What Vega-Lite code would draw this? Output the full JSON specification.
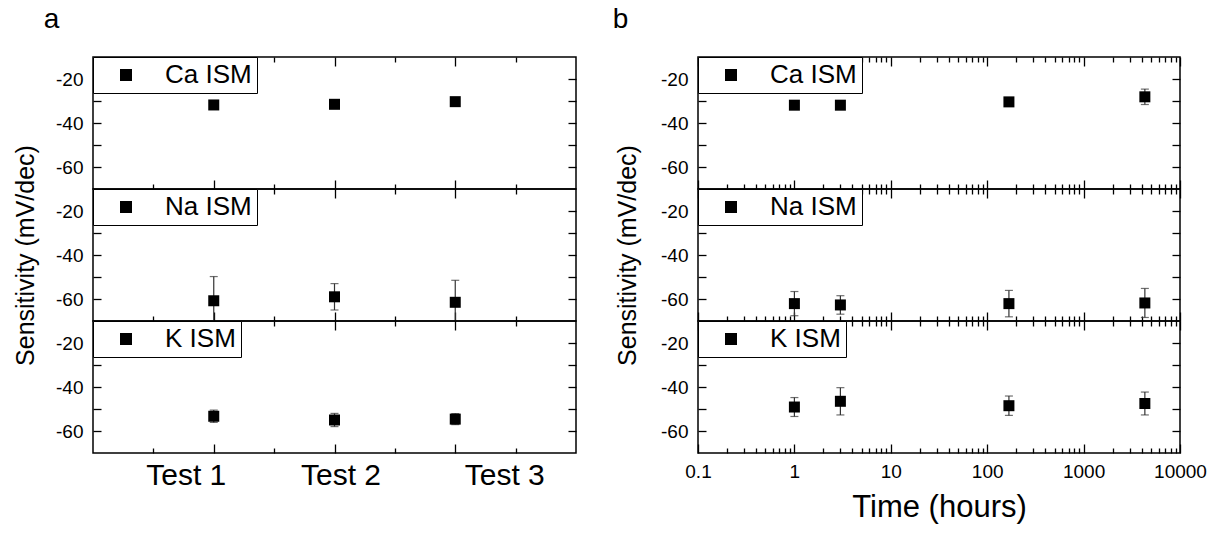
{
  "$schema": "https://vega.github.io/schema/vega-lite/v6.json",
  "padding": {"left": 12, "top": 5, "right": 5, "bottom": 5},
  "background": "white",
  "datasets": {
    "a": [
      {"ion": "Ca", "label": "Ca ISM", "x": 1, "y": -31.8, "lo": -31.8, "hi": -31.8},
      {"ion": "Ca", "label": "Ca ISM", "x": 2, "y": -31.5, "lo": -31.5, "hi": -31.5},
      {"ion": "Ca", "label": "Ca ISM", "x": 3, "y": -30.3, "lo": -30.3, "hi": -30.3},
      {"ion": "Na", "label": "Na ISM", "x": 1, "y": -60.8, "lo": -71.8, "hi": -49.8},
      {"ion": "Na", "label": "Na ISM", "x": 2, "y": -59.0, "lo": -65.0, "hi": -53.0},
      {"ion": "Na", "label": "Na ISM", "x": 3, "y": -61.5, "lo": -71.5, "hi": -51.5},
      {"ion": "K", "label": "K ISM", "x": 1, "y": -53.3, "lo": -56.1, "hi": -50.5},
      {"ion": "K", "label": "K ISM", "x": 2, "y": -55.0, "lo": -58.0, "hi": -52.0},
      {"ion": "K", "label": "K ISM", "x": 3, "y": -54.6, "lo": -57.1, "hi": -52.1}
    ],
    "b": [
      {"ion": "Ca", "label": "Ca ISM", "x": 1, "y": -31.9, "lo": -32.4, "hi": -31.4},
      {"ion": "Ca", "label": "Ca ISM", "x": 3, "y": -31.9, "lo": -32.4, "hi": -31.4},
      {"ion": "Ca", "label": "Ca ISM", "x": 168, "y": -30.4, "lo": -31.4, "hi": -29.4},
      {"ion": "Ca", "label": "Ca ISM", "x": 4320, "y": -28.1, "lo": -31.6, "hi": -24.6},
      {"ion": "Na", "label": "Na ISM", "x": 1, "y": -62.1, "lo": -67.6, "hi": -56.6},
      {"ion": "Na", "label": "Na ISM", "x": 3, "y": -62.7, "lo": -66.9, "hi": -58.5},
      {"ion": "Na", "label": "Na ISM", "x": 168, "y": -62.1, "lo": -68.1, "hi": -56.1},
      {"ion": "Na", "label": "Na ISM", "x": 4320, "y": -61.8, "lo": -68.4, "hi": -55.2},
      {"ion": "K", "label": "K ISM", "x": 1, "y": -49.1, "lo": -53.4, "hi": -44.8},
      {"ion": "K", "label": "K ISM", "x": 3, "y": -46.5, "lo": -52.7, "hi": -40.3},
      {"ion": "K", "label": "K ISM", "x": 168, "y": -48.5, "lo": -52.9, "hi": -44.1},
      {"ion": "K", "label": "K ISM", "x": 4320, "y": -47.5, "lo": -52.7, "hi": -42.3}
    ]
  },
  "hconcat": [
    {
      "title": {"text": "a", "anchor": "start", "fontSize": 28, "fontWeight": "normal", "dx": 31, "offset": 22},
      "spacing": 0,
      "bounds": "flush",
      "resolve": {"scale": {"shape": "independent"}, "legend": {"shape": "independent"}},
      "vconcat": [
        {
          "width": 483, "height": 132,
          "data": {"name": "a"},
          "transform": [{"filter": "datum.ion == 'Ca'"}],
          "resolve": {"axis": {"x": "independent", "y": "independent"}},
          "layer": [
            {"mark": {"type": "rule", "color": "#333333", "strokeWidth": 1.2, "clip": true},
             "encoding": {
               "x": {"field": "x", "type": "quantitative", "scale": {"domain": [0.1, 4]}, "axis": {"orient": "top", "values": [1, 2, 3], "tickSize": -9, "labels": false, "title": null}},
               "y": {"field": "lo", "type": "quantitative", "scale": {"domain": [-70, -10]}, "axis": {"orient": "right", "values": [-60, -50, -40, -30, -20], "tickSize": -8, "labels": false, "title": null}},
               "y2": {"field": "hi"}}},
            {"mark": {"type": "tick", "orient": "horizontal", "size": 8, "thickness": 1.2, "color": "#333333", "clip": true},
             "encoding": {
               "x": {"field": "x", "type": "quantitative", "axis": {"orient": "bottom", "values": [0.5, 1.5, 2.5, 3.5], "tickSize": -5, "labels": false, "title": null}},
               "y": {"field": "lo", "type": "quantitative", "axis": null}}},
            {"mark": {"type": "tick", "orient": "horizontal", "size": 8, "thickness": 1.2, "color": "#333333", "clip": true},
             "encoding": {
               "x": {"field": "x", "type": "quantitative", "axis": {"orient": "top", "values": [0.5, 1.5, 2.5, 3.5], "tickSize": -5, "labels": false, "title": null}},
               "y": {"field": "hi", "type": "quantitative", "axis": null}}},
            {"mark": {"type": "point", "shape": "square", "filled": true, "size": 121, "color": "black", "opacity": 1},
             "encoding": {
               "x": {"field": "x", "type": "quantitative", "axis": {"orient": "bottom", "values": [1, 2, 3], "tickSize": -9, "labels": false, "title": null}},
               "y": {"field": "y", "type": "quantitative", "axis": {"orient": "left", "values": [-60, -50, -40, -30, -20], "tickSize": -8, "labelExpr": "datum.value % 20 == 0 ? '' + datum.value : ''", "labelPadding": 18, "title": null}},
               "shape": {"field": "label", "type": "nominal", "scale": {"range": ["square"]},
                 "legend": {"title": null, "orient": "top-left", "offset": 0, "padding": 5, "strokeColor": "black", "fillColor": "white", "labelFontSize": 26, "labelColor": "black", "symbolOffset": 15, "labelOffset": 26, "symbolSize": 144, "symbolType": "square", "symbolFillColor": "black", "symbolStrokeWidth": 0, "labelLimit": 300}}}}
          ]
        },
        {
          "width": 483, "height": 132,
          "data": {"name": "a"},
          "transform": [{"filter": "datum.ion == 'Na'"}],
          "resolve": {"axis": {"x": "independent", "y": "independent"}},
          "layer": [
            {"mark": {"type": "rule", "color": "#333333", "strokeWidth": 1.2, "clip": true},
             "encoding": {
               "x": {"field": "x", "type": "quantitative", "scale": {"domain": [0.1, 4]}, "axis": {"orient": "top", "values": [1, 2, 3], "tickSize": -9, "labels": false, "title": null}},
               "y": {"field": "lo", "type": "quantitative", "scale": {"domain": [-70, -10]}, "axis": {"orient": "right", "values": [-60, -50, -40, -30, -20], "tickSize": -8, "labels": false, "title": null}},
               "y2": {"field": "hi"}}},
            {"mark": {"type": "tick", "orient": "horizontal", "size": 8, "thickness": 1.2, "color": "#333333", "clip": true},
             "encoding": {
               "x": {"field": "x", "type": "quantitative", "axis": {"orient": "bottom", "values": [0.5, 1.5, 2.5, 3.5], "tickSize": -5, "labels": false, "title": null}},
               "y": {"field": "lo", "type": "quantitative", "axis": null}}},
            {"mark": {"type": "tick", "orient": "horizontal", "size": 8, "thickness": 1.2, "color": "#333333", "clip": true},
             "encoding": {
               "x": {"field": "x", "type": "quantitative", "axis": {"orient": "top", "values": [0.5, 1.5, 2.5, 3.5], "tickSize": -5, "labels": false, "title": null}},
               "y": {"field": "hi", "type": "quantitative", "axis": null}}},
            {"mark": {"type": "point", "shape": "square", "filled": true, "size": 121, "color": "black", "opacity": 1},
             "encoding": {
               "x": {"field": "x", "type": "quantitative", "axis": {"orient": "bottom", "values": [1, 2, 3], "tickSize": -9, "labels": false, "title": null}},
               "y": {"field": "y", "type": "quantitative", "axis": {"orient": "left", "values": [-60, -50, -40, -30, -20], "tickSize": -8, "labelExpr": "datum.value % 20 == 0 ? '' + datum.value : ''", "labelPadding": 18, "title": "Sensitivity (mV/dec)", "titleFontSize": 25, "titlePadding": 17}},
               "shape": {"field": "label", "type": "nominal", "scale": {"range": ["square"]},
                 "legend": {"title": null, "orient": "top-left", "offset": 0, "padding": 5, "strokeColor": "black", "fillColor": "white", "labelFontSize": 26, "labelColor": "black", "symbolOffset": 15, "labelOffset": 26, "symbolSize": 144, "symbolType": "square", "symbolFillColor": "black", "symbolStrokeWidth": 0, "labelLimit": 300}}}}
          ]
        },
        {
          "width": 483, "height": 132,
          "data": {"name": "a"},
          "transform": [{"filter": "datum.ion == 'K'"}],
          "resolve": {"axis": {"x": "independent", "y": "independent"}},
          "layer": [
            {"mark": {"type": "rule", "color": "#333333", "strokeWidth": 1.2, "clip": true},
             "encoding": {
               "x": {"field": "x", "type": "quantitative", "scale": {"domain": [0.1, 4]}, "axis": {"orient": "top", "values": [1, 2, 3], "tickSize": -9, "labels": false, "title": null}},
               "y": {"field": "lo", "type": "quantitative", "scale": {"domain": [-70, -10]}, "axis": {"orient": "right", "values": [-60, -50, -40, -30, -20], "tickSize": -8, "labels": false, "title": null}},
               "y2": {"field": "hi"}}},
            {"mark": {"type": "tick", "orient": "horizontal", "size": 8, "thickness": 1.2, "color": "#333333", "clip": true},
             "encoding": {
               "x": {"field": "x", "type": "quantitative", "axis": {"orient": "bottom", "values": [0.5, 1.5, 2.5, 3.5], "tickSize": -5, "labels": false, "title": null}},
               "y": {"field": "lo", "type": "quantitative", "axis": null}}},
            {"mark": {"type": "tick", "orient": "horizontal", "size": 8, "thickness": 1.2, "color": "#333333", "clip": true},
             "encoding": {
               "x": {"field": "x", "type": "quantitative", "axis": {"orient": "top", "values": [0.5, 1.5, 2.5, 3.5], "tickSize": -5, "labels": false, "title": null}},
               "y": {"field": "hi", "type": "quantitative", "axis": null}}},
            {"mark": {"type": "point", "shape": "square", "filled": true, "size": 121, "color": "black", "opacity": 1},
             "encoding": {
               "x": {"field": "x", "type": "quantitative", "axis": {"orient": "bottom", "values": [1, 2, 3], "tickSize": -9, "labelExpr": "'Test ' + datum.value", "labelFontSize": 30, "labelPadding": 16, "labelBaseline": "top", "labelFlush": false, "labelOverlap": false, "title": null,
                 "labelOffset": {"condition": [{"test": "datum.value == 1", "value": -28}, {"test": "datum.value == 2", "value": 6}], "value": 49}}},
               "y": {"field": "y", "type": "quantitative", "axis": {"orient": "left", "values": [-60, -50, -40, -30, -20], "tickSize": -8, "labelExpr": "datum.value % 20 == 0 ? '' + datum.value : ''", "labelPadding": 18, "title": null}},
               "shape": {"field": "label", "type": "nominal", "scale": {"range": ["square"]},
                 "legend": {"title": null, "orient": "top-left", "offset": 0, "padding": 5, "strokeColor": "black", "fillColor": "white", "labelFontSize": 26, "labelColor": "black", "symbolOffset": 15, "labelOffset": 26, "symbolSize": 144, "symbolType": "square", "symbolFillColor": "black", "symbolStrokeWidth": 0, "labelLimit": 300}}}}
          ]
        }
      ]
    },
    {
      "title": {"text": "b", "anchor": "start", "fontSize": 28, "fontWeight": "normal", "dx": -2, "offset": 22},
      "spacing": 0,
      "bounds": "flush",
      "resolve": {"scale": {"shape": "independent"}, "legend": {"shape": "independent"}},
      "vconcat": [
        {
          "width": 482, "height": 132,
          "data": {"name": "b"},
          "transform": [{"filter": "datum.ion == 'Ca'"}],
          "resolve": {"axis": {"x": "independent", "y": "independent"}},
          "layer": [
            {"mark": {"type": "rule", "color": "#333333", "strokeWidth": 1.2, "clip": true},
             "encoding": {
               "x": {"field": "x", "type": "quantitative", "scale": {"type": "log", "domain": [0.1, 10000]}, "axis": {"orient": "top", "values": [0.1, 1, 10, 100, 1000, 10000], "tickSize": -9, "labels": false, "title": null}},
               "y": {"field": "lo", "type": "quantitative", "scale": {"domain": [-70, -10]}, "axis": {"orient": "right", "values": [-60, -50, -40, -30, -20], "tickSize": -8, "labels": false, "title": null}},
               "y2": {"field": "hi"}}},
            {"mark": {"type": "tick", "orient": "horizontal", "size": 8, "thickness": 1.2, "color": "#333333", "clip": true},
             "encoding": {
               "x": {"field": "x", "type": "quantitative", "axis": {"orient": "bottom", "values": [0.2, 0.3, 0.4, 0.5, 0.6, 0.7, 0.8, 0.9, 2, 3, 4, 5, 6, 7, 8, 9, 20, 30, 40, 50, 60, 70, 80, 90, 200, 300, 400, 500, 600, 700, 800, 900, 2000, 3000, 4000, 5000, 6000, 7000, 8000, 9000], "tickSize": -5, "labels": false, "title": null}},
               "y": {"field": "lo", "type": "quantitative", "axis": null}}},
            {"mark": {"type": "tick", "orient": "horizontal", "size": 8, "thickness": 1.2, "color": "#333333", "clip": true},
             "encoding": {
               "x": {"field": "x", "type": "quantitative", "axis": {"orient": "top", "values": [0.2, 0.3, 0.4, 0.5, 0.6, 0.7, 0.8, 0.9, 2, 3, 4, 5, 6, 7, 8, 9, 20, 30, 40, 50, 60, 70, 80, 90, 200, 300, 400, 500, 600, 700, 800, 900, 2000, 3000, 4000, 5000, 6000, 7000, 8000, 9000], "tickSize": -5, "labels": false, "title": null}},
               "y": {"field": "hi", "type": "quantitative", "axis": null}}},
            {"mark": {"type": "point", "shape": "square", "filled": true, "size": 121, "color": "black", "opacity": 1},
             "encoding": {
               "x": {"field": "x", "type": "quantitative", "axis": {"orient": "bottom", "values": [0.1, 1, 10, 100, 1000, 10000], "tickSize": -9, "labels": false, "title": null}},
               "y": {"field": "y", "type": "quantitative", "axis": {"orient": "left", "values": [-60, -50, -40, -30, -20], "tickSize": -8, "labelExpr": "datum.value % 20 == 0 ? '' + datum.value : ''", "labelPadding": 18, "title": null}},
               "shape": {"field": "label", "type": "nominal", "scale": {"range": ["square"]},
                 "legend": {"title": null, "orient": "top-left", "offset": 0, "padding": 5, "strokeColor": "black", "fillColor": "white", "labelFontSize": 26, "labelColor": "black", "symbolOffset": 15, "labelOffset": 26, "symbolSize": 144, "symbolType": "square", "symbolFillColor": "black", "symbolStrokeWidth": 0, "labelLimit": 300}}}}
          ]
        },
        {
          "width": 482, "height": 132,
          "data": {"name": "b"},
          "transform": [{"filter": "datum.ion == 'Na'"}],
          "resolve": {"axis": {"x": "independent", "y": "independent"}},
          "layer": [
            {"mark": {"type": "rule", "color": "#333333", "strokeWidth": 1.2, "clip": true},
             "encoding": {
               "x": {"field": "x", "type": "quantitative", "scale": {"type": "log", "domain": [0.1, 10000]}, "axis": {"orient": "top", "values": [0.1, 1, 10, 100, 1000, 10000], "tickSize": -9, "labels": false, "title": null}},
               "y": {"field": "lo", "type": "quantitative", "scale": {"domain": [-70, -10]}, "axis": {"orient": "right", "values": [-60, -50, -40, -30, -20], "tickSize": -8, "labels": false, "title": null}},
               "y2": {"field": "hi"}}},
            {"mark": {"type": "tick", "orient": "horizontal", "size": 8, "thickness": 1.2, "color": "#333333", "clip": true},
             "encoding": {
               "x": {"field": "x", "type": "quantitative", "axis": {"orient": "bottom", "values": [0.2, 0.3, 0.4, 0.5, 0.6, 0.7, 0.8, 0.9, 2, 3, 4, 5, 6, 7, 8, 9, 20, 30, 40, 50, 60, 70, 80, 90, 200, 300, 400, 500, 600, 700, 800, 900, 2000, 3000, 4000, 5000, 6000, 7000, 8000, 9000], "tickSize": -5, "labels": false, "title": null}},
               "y": {"field": "lo", "type": "quantitative", "axis": null}}},
            {"mark": {"type": "tick", "orient": "horizontal", "size": 8, "thickness": 1.2, "color": "#333333", "clip": true},
             "encoding": {
               "x": {"field": "x", "type": "quantitative", "axis": {"orient": "top", "values": [0.2, 0.3, 0.4, 0.5, 0.6, 0.7, 0.8, 0.9, 2, 3, 4, 5, 6, 7, 8, 9, 20, 30, 40, 50, 60, 70, 80, 90, 200, 300, 400, 500, 600, 700, 800, 900, 2000, 3000, 4000, 5000, 6000, 7000, 8000, 9000], "tickSize": -5, "labels": false, "title": null}},
               "y": {"field": "hi", "type": "quantitative", "axis": null}}},
            {"mark": {"type": "point", "shape": "square", "filled": true, "size": 121, "color": "black", "opacity": 1},
             "encoding": {
               "x": {"field": "x", "type": "quantitative", "axis": {"orient": "bottom", "values": [0.1, 1, 10, 100, 1000, 10000], "tickSize": -9, "labels": false, "title": null}},
               "y": {"field": "y", "type": "quantitative", "axis": {"orient": "left", "values": [-60, -50, -40, -30, -20], "tickSize": -8, "labelExpr": "datum.value % 20 == 0 ? '' + datum.value : ''", "labelPadding": 18, "title": "Sensitivity (mV/dec)", "titleFontSize": 25, "titlePadding": 20}},
               "shape": {"field": "label", "type": "nominal", "scale": {"range": ["square"]},
                 "legend": {"title": null, "orient": "top-left", "offset": 0, "padding": 5, "strokeColor": "black", "fillColor": "white", "labelFontSize": 26, "labelColor": "black", "symbolOffset": 15, "labelOffset": 26, "symbolSize": 144, "symbolType": "square", "symbolFillColor": "black", "symbolStrokeWidth": 0, "labelLimit": 300}}}}
          ]
        },
        {
          "width": 482, "height": 132,
          "data": {"name": "b"},
          "transform": [{"filter": "datum.ion == 'K'"}],
          "resolve": {"axis": {"x": "independent", "y": "independent"}},
          "layer": [
            {"mark": {"type": "rule", "color": "#333333", "strokeWidth": 1.2, "clip": true},
             "encoding": {
               "x": {"field": "x", "type": "quantitative", "scale": {"type": "log", "domain": [0.1, 10000]}, "axis": {"orient": "top", "values": [0.1, 1, 10, 100, 1000, 10000], "tickSize": -9, "labels": false, "title": null}},
               "y": {"field": "lo", "type": "quantitative", "scale": {"domain": [-70, -10]}, "axis": {"orient": "right", "values": [-60, -50, -40, -30, -20], "tickSize": -8, "labels": false, "title": null}},
               "y2": {"field": "hi"}}},
            {"mark": {"type": "tick", "orient": "horizontal", "size": 8, "thickness": 1.2, "color": "#333333", "clip": true},
             "encoding": {
               "x": {"field": "x", "type": "quantitative", "axis": {"orient": "bottom", "values": [0.2, 0.3, 0.4, 0.5, 0.6, 0.7, 0.8, 0.9, 2, 3, 4, 5, 6, 7, 8, 9, 20, 30, 40, 50, 60, 70, 80, 90, 200, 300, 400, 500, 600, 700, 800, 900, 2000, 3000, 4000, 5000, 6000, 7000, 8000, 9000], "tickSize": -5, "labels": false, "title": null}},
               "y": {"field": "lo", "type": "quantitative", "axis": null}}},
            {"mark": {"type": "tick", "orient": "horizontal", "size": 8, "thickness": 1.2, "color": "#333333", "clip": true},
             "encoding": {
               "x": {"field": "x", "type": "quantitative", "axis": {"orient": "top", "values": [0.2, 0.3, 0.4, 0.5, 0.6, 0.7, 0.8, 0.9, 2, 3, 4, 5, 6, 7, 8, 9, 20, 30, 40, 50, 60, 70, 80, 90, 200, 300, 400, 500, 600, 700, 800, 900, 2000, 3000, 4000, 5000, 6000, 7000, 8000, 9000], "tickSize": -5, "labels": false, "title": null}},
               "y": {"field": "hi", "type": "quantitative", "axis": null}}},
            {"mark": {"type": "point", "shape": "square", "filled": true, "size": 121, "color": "black", "opacity": 1},
             "encoding": {
               "x": {"field": "x", "type": "quantitative", "axis": {"orient": "bottom", "values": [0.1, 1, 10, 100, 1000, 10000], "tickSize": -9, "labelExpr": "'' + datum.value", "labelFontSize": 19, "labelPadding": 18, "labelBaseline": "top", "labelFlush": false, "labelOverlap": false, "title": "Time (hours)", "titleFontSize": 31, "titlePadding": 11}},
               "y": {"field": "y", "type": "quantitative", "axis": {"orient": "left", "values": [-60, -50, -40, -30, -20], "tickSize": -8, "labelExpr": "datum.value % 20 == 0 ? '' + datum.value : ''", "labelPadding": 18, "title": null}},
               "shape": {"field": "label", "type": "nominal", "scale": {"range": ["square"]},
                 "legend": {"title": null, "orient": "top-left", "offset": 0, "padding": 5, "strokeColor": "black", "fillColor": "white", "labelFontSize": 26, "labelColor": "black", "symbolOffset": 15, "labelOffset": 26, "symbolSize": 144, "symbolType": "square", "symbolFillColor": "black", "symbolStrokeWidth": 0, "labelLimit": 300}}}}
          ]
        }
      ]
    }
  ],
  "spacing": 34,
  "resolve": {"scale": {"shape": "independent"}, "legend": {"shape": "independent"}},
  "config": {
    "font": "Liberation Sans",
    "view": {"stroke": "black", "strokeWidth": 1.5},
    "title": {"color": "black", "font": "Liberation Sans"},
    "axis": {"domain": false, "grid": false, "minExtent": 0, "tickColor": "black", "tickWidth": 1.3, "labelColor": "black", "labelFont": "Liberation Sans", "labelFontSize": 19, "titleFont": "Liberation Sans", "titleColor": "black", "titleFontWeight": "normal", "labelFlush": false},
    "legend": {"labelFont": "Liberation Sans"}
  }
}
